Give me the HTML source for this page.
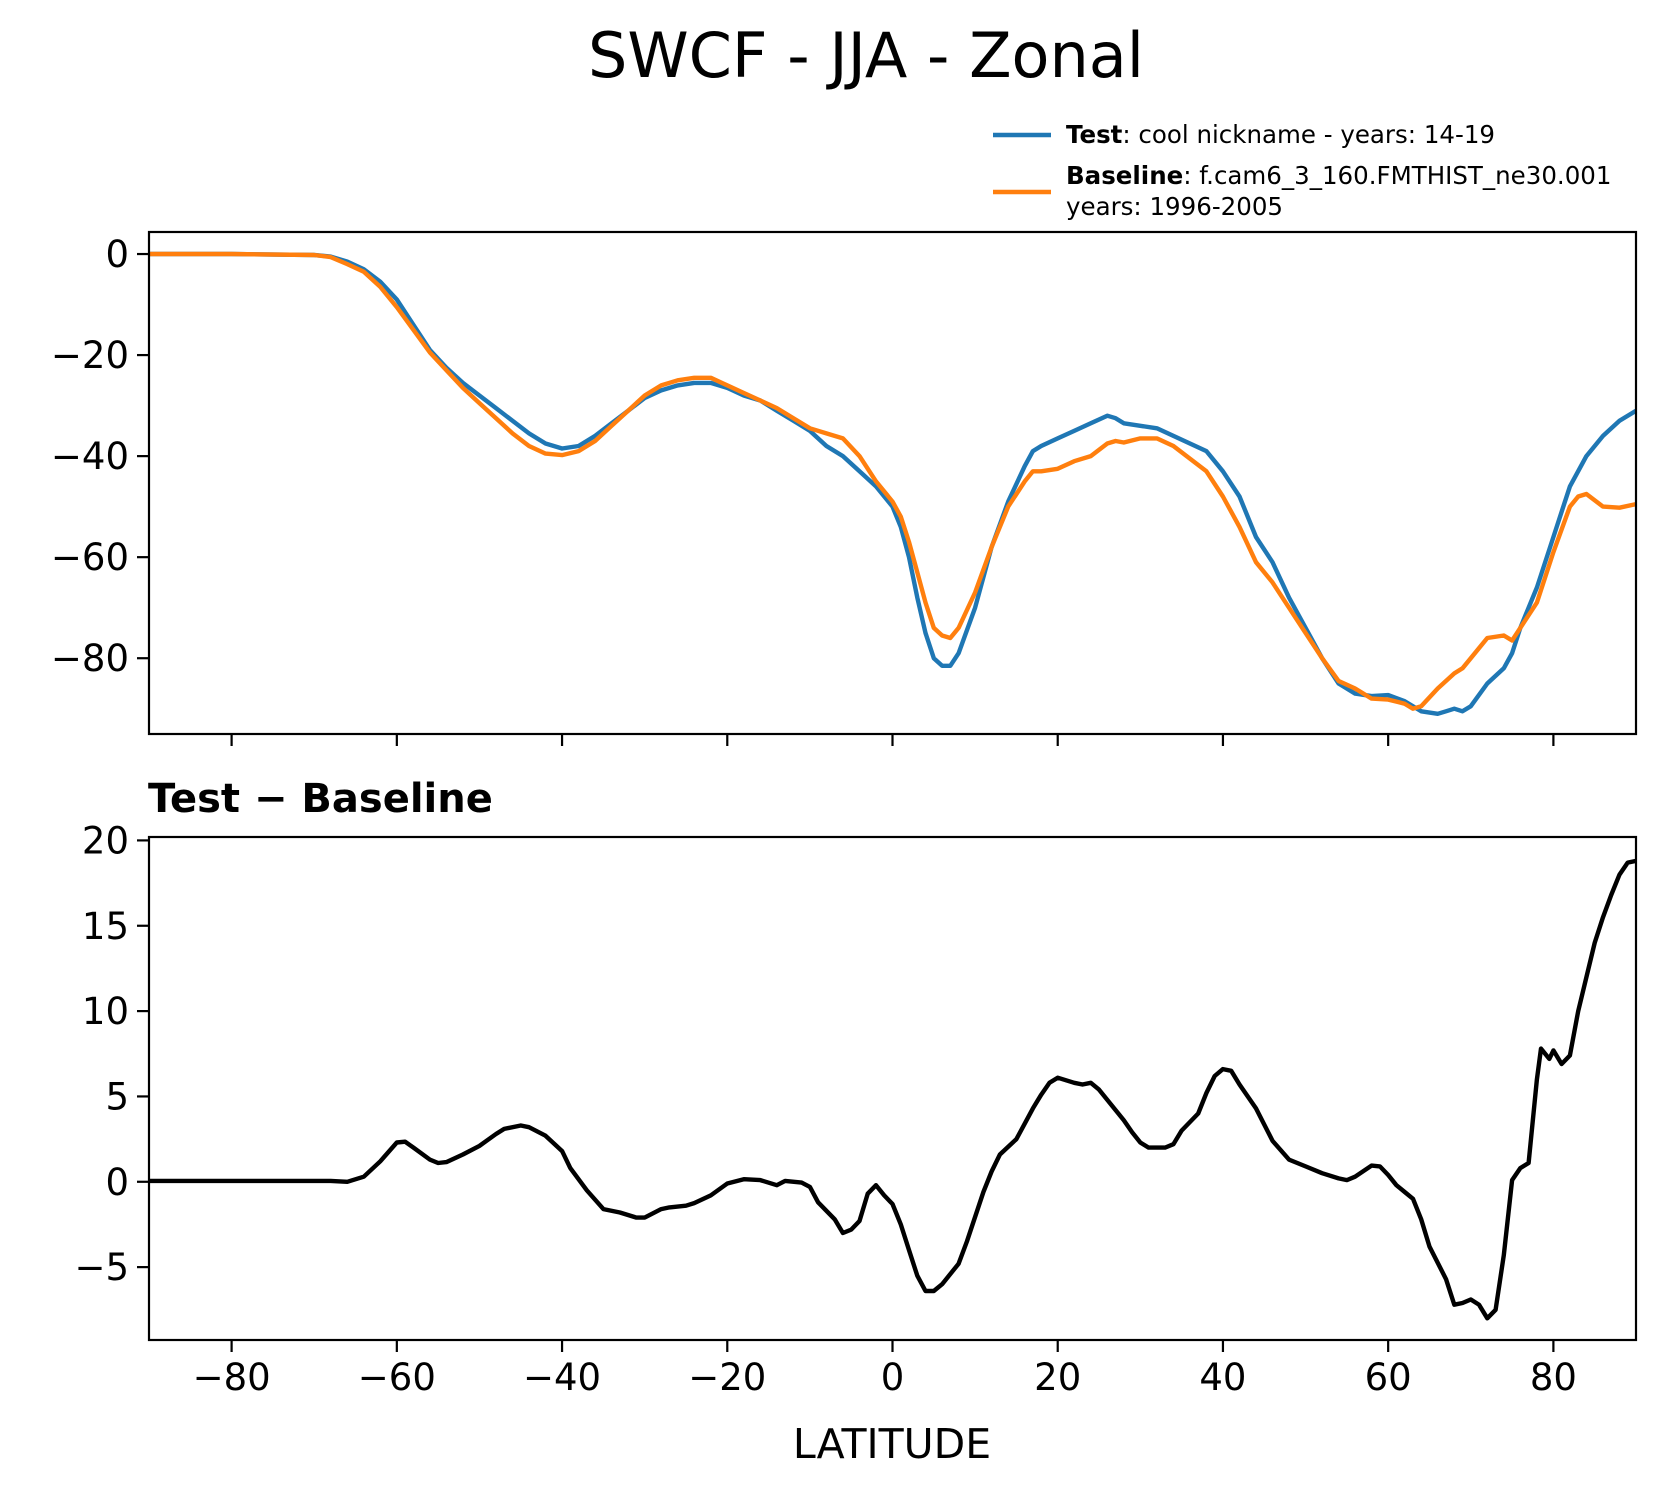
<!DOCTYPE html>
<html><head><meta charset="utf-8">
<style>
html,body{margin:0;padding:0;background:#fff;}
svg{display:block;font-family:"DejaVu Sans","Liberation Sans",sans-serif;}
</style></head>
<body>
<svg id="chart" width="1665" height="1496" viewBox="0 0 1665 1496" xmlns="http://www.w3.org/2000/svg">
<text x="866" y="77" font-size="62" text-anchor="middle">SWCF - JJA - Zonal</text>
<g>
<line x1="993" y1="135" x2="1051" y2="135" stroke="#1f77b4" stroke-width="4.4"/>
<text x="1066" y="143" font-size="24.5"><tspan font-weight="bold">Test</tspan>: cool nickname - years: 14-19</text>
<line x1="993" y1="192" x2="1051" y2="192" stroke="#ff7f0e" stroke-width="4.4"/>
<text x="1066" y="184" font-size="24.5"><tspan font-weight="bold">Baseline</tspan>: f.cam6_3_160.FMTHIST_ne30.001</text>
<text x="1066" y="215" font-size="24.5">years: 1996-2005</text>
</g>
<text x="148" y="812" font-size="40" font-weight="bold">Test − Baseline</text>
<text x="892" y="1458" font-size="41" text-anchor="middle">LATITUDE</text>
<g id="plots"></g>
</svg>
<script>
const testLat = [-90,-80,-70,-68,-66,-64,-62,-60,-58,-56,-54,-52,-50,-48,-46,-44,-42,-40,-38,-36,-34,-32,-30,-28,-26,-24,-22,-20,-18,-16,-14,-12,-10,-8,-6,-4,-2,0,1,2,3,4,5,6,7,8,10,12,14,16,17,18,20,22,24,26,27,28,30,32,34,36,38,40,42,44,46,48,50,52,54,56,58,60,62,64,66,67,68,69,70,72,74,75,76,78,80,82,84,86,88,90];
const testVals = [0,0,-0.2,-0.5,-1.5,-3,-5.5,-9,-14,-19,-22.5,-25.5,-28,-30.5,-33,-35.5,-37.5,-38.5,-38,-36,-33.5,-31,-28.5,-27,-26,-25.5,-25.5,-26.5,-28,-29,-31,-33,-35,-38,-40,-43,-46,-50,-54,-60,-68,-75,-80,-81.5,-81.5,-79,-70,-58,-49,-42,-39,-38,-36.5,-35,-33.5,-32,-32.5,-33.5,-34,-34.5,-36,-37.5,-39,-43,-48,-56,-61,-68,-74,-80,-85,-87,-87.5,-87.3,-88.5,-90.5,-91,-90.5,-90,-90.5,-89.5,-85,-82,-79,-74,-66,-56,-46,-40,-36,-33,-31];
const baseLat = [-90,-80,-70,-68,-66,-64,-62,-60,-58,-56,-54,-52,-50,-48,-46,-44,-42,-40,-38,-36,-34,-32,-30,-28,-26,-24,-22,-20,-18,-16,-14,-12,-10,-8,-6,-4,-2,0,1,2,3,4,5,6,7,8,10,12,14,16,17,18,20,22,24,26,27,28,30,32,34,36,38,40,42,44,46,48,50,52,54,56,58,60,62,63,64,66,68,69,70,72,74,75,76,78,80,82,83,84,86,88,90];
const baseVals = [0,0,-0.2,-0.6,-2,-3.5,-6.5,-10.5,-15,-19.5,-23,-26.5,-29.5,-32.5,-35.5,-38,-39.5,-39.8,-39,-37,-34,-31,-28,-26,-25,-24.5,-24.5,-26,-27.5,-29,-30.5,-32.5,-34.5,-35.5,-36.5,-40,-45,-49,-52,-57,-63,-69,-74,-75.5,-76,-74,-67,-58,-50,-45,-43,-43,-42.5,-41,-40,-37.5,-37,-37.3,-36.5,-36.5,-38,-40.5,-43,-48,-54,-61,-65,-70,-75,-80,-84.5,-86,-88,-88.2,-89,-90,-89.5,-86,-83,-82,-80,-76,-75.5,-76.5,-74,-69,-59,-50,-48,-47.5,-50,-50.2,-49.5];
const diffLat = [-90,-80,-70,-68,-66,-64,-62,-60,-59,-58,-56,-55,-54,-52,-50,-48,-47,-45,-44,-42,-40,-39,-37,-35,-33,-31,-30,-28,-27,-25,-24,-22,-20,-18,-16,-14,-13,-11,-10,-9,-7,-6,-5,-4,-3,-2,-1,0,1,2,3,4,5,6,8,9,11,12,13,15,16,17,18,19,20,22,23,24,25,27,28,29,30,31,33,34,35,37,38,39,40,41,42,44,46,48,50,52,54,55,56,58,59,60,61,62,63,64,65,67,68,69,70,71,72,73,74,75,76,77,78,78.5,79.5,80,81,82,83,85,86,87,88,89,90];
const diffVals = [0.05,0.05,0.05,0.05,0,0.3,1.2,2.3,2.35,2,1.3,1.1,1.15,1.6,2.1,2.8,3.1,3.3,3.2,2.7,1.8,0.8,-0.5,-1.6,-1.8,-2.1,-2.1,-1.6,-1.5,-1.4,-1.25,-0.8,-0.1,0.15,0.1,-0.2,0.05,-0.05,-0.3,-1.2,-2.2,-3,-2.8,-2.3,-0.7,-0.2,-0.8,-1.3,-2.5,-4,-5.5,-6.4,-6.4,-6,-4.8,-3.5,-0.6,0.6,1.6,2.5,3.4,4.3,5.1,5.8,6.1,5.8,5.7,5.8,5.4,4.2,3.6,2.9,2.3,2,2,2.2,3,4,5.2,6.2,6.6,6.5,5.7,4.3,2.4,1.3,0.9,0.5,0.2,0.1,0.3,0.95,0.9,0.4,-0.2,-0.6,-1,-2.2,-3.8,-5.7,-7.2,-7.1,-6.9,-7.2,-8,-7.5,-4.3,0.1,0.8,1.1,6,7.8,7.2,7.7,6.9,7.4,10,14,15.5,16.8,18,18.7,18.8];
const xTicks = [-80,-60,-40,-20,0,20,40,60,80];
const topTicks = [0,-20,-40,-60,-80];
const botTicks = [20,15,10,5,0,-5];

const NS = "http://www.w3.org/2000/svg";
const g = document.getElementById('plots');
const L = 149, R = 1636;
const xS = v => L + (v + 90) / 180 * (R - L);
const topAx = {t:232, b:734, ymin:-95.0, ymax:4.36};
const botAx = {t:837, b:1340, ymin:-9.27, ymax:20.2};
function yS(ax, v){ return ax.b - (v - ax.ymin) / (ax.ymax - ax.ymin) * (ax.b - ax.t); }
function mk(tag, attrs){ const e = document.createElementNS(NS, tag); for (const k in attrs) e.setAttribute(k, attrs[k]); g.appendChild(e); return e; }
function line(ax, xs, ys, color, name){
  const pts = xs.map((x,i)=> xS(x).toFixed(1)+','+yS(ax, ys[i]).toFixed(1)).join(' ');
  const p = mk('polyline', {points:pts, fill:'none', stroke:color, 'stroke-width':4.4, 'stroke-linejoin':'round'});
  
  
}
function axes(ax, ticks, name, showXLabels){
  const frame = mk('rect', {x:L, y:ax.t, width:R-L, height:ax.b-ax.t, fill:'none', stroke:'#000', 'stroke-width':2.2});
  
  
  ticks.forEach(v => {
    const y = yS(ax, v);
    const tk = mk('line', {x1:L-12, x2:L, y1:y, y2:y, stroke:'#000', 'stroke-width':2.2});
    
    
    const t = mk('text', {x:L-20, y:y+13, 'font-size':37, 'text-anchor':'end'});
    t.textContent = v < 0 ? '\u2212' + Math.abs(v) : String(v);
    
    
  });
  xTicks.forEach(v => {
    const x = xS(v);
    const tk = mk('line', {x1:x, x2:x, y1:ax.b, y2:ax.b+12, stroke:'#000', 'stroke-width':2.2});
    
    
    if (showXLabels){
      const t = mk('text', {x:x, y:ax.b+50, 'font-size':37, 'text-anchor':'middle'});
      t.textContent = v < 0 ? '\u2212' + Math.abs(v) : String(v);
      
      
    }
  });
}
line(topAx, testLat, testVals, '#1f77b4', 'test-series-line');
line(topAx, baseLat, baseVals, '#ff7f0e', 'baseline-series-line');
line(botAx, diffLat, diffVals, '#000000', 'difference-series-line');
axes(topAx, topTicks, 'top-panel', false);
axes(botAx, botTicks, 'bottom-panel', true);
</script>
</body></html>
